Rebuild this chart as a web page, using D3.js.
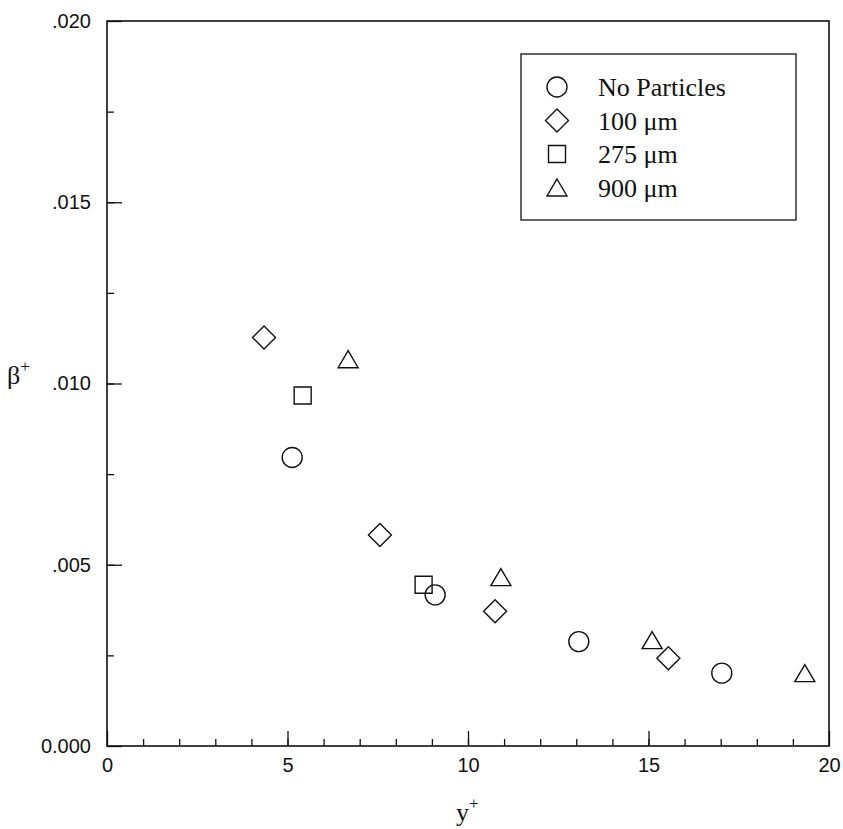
<!DOCTYPE html>
<html>
<head>
<meta charset="utf-8">
<script src="https://cdn.jsdelivr.net/npm/d3@7"></script>
<style>
  body { margin: 0; background: #fff; }
  svg { display: block; }
</style>
</head>
<body>
<div id="chart"></div>
<script>
// data: beta+ against y+ for each particle loading
var seriesNames = ["No Particles", "100 \u03bcm", "275 \u03bcm", "900 \u03bcm"];

var yPlusNone = [5.13, 9.09, 13.07, 17.03];
var betaNone  = [0.00796, 0.00417, 0.00288, 0.00201];

var yPlus100 = [4.35, 7.56, 10.75, 15.55];
var beta100  = [0.01127, 0.00582, 0.00372, 0.00242];

var yPlus275 = [5.42, 8.77];
var beta275  = [0.00967, 0.00445];

var yPlus900 = [6.68, 10.91, 15.10, 19.33];
var beta900  = [0.01067, 0.00466, 0.00292, 0.00201];

var xTicks = [0, 5, 10, 15, 20];
var yTicks = [0, 0.005, 0.010, 0.015, 0.020];

var width = 843;
var height = 829;
var margin = {top: 21, right: 14, bottom: 83, left: 107};

var svg = d3.select("#chart")
    .append("svg")
    .attr("width", width)
    .attr("height", height);

svg.append("rect").attr("width", width).attr("height", height).attr("fill", "#fff");

var g = svg.append("g").attr("transform", "translate(" + margin.left + "," + margin.top + ")");

var w = width - margin.left - margin.right;
var h = height - margin.top - margin.bottom;

var x = d3.scaleLinear().domain([0, 20]).range([0, w]);
var y = d3.scaleLinear().domain([0, 0.020]).range([h, 0]);

// marker shapes, "size" here is the half-width in px
var circleType = { draw: function(c, r) { c.moveTo(r, 0); c.arc(0, 0, r, 0, 2 * Math.PI); } };
var diamondType = { draw: function(c, r) { c.moveTo(0, -r); c.lineTo(r, 0); c.lineTo(0, r); c.lineTo(-r, 0); c.closePath(); } };
var squareType = { draw: function(c, r) { c.rect(-r, -r, 2 * r, 2 * r); } };
var triangleType = { draw: function(c, r) { var th = r * 0.85; c.moveTo(0, -th); c.lineTo(r, th); c.lineTo(-r, th); c.closePath(); } };

var series = [
  {name: seriesNames[0], xs: yPlusNone, ys: betaNone, type: circleType, r: 10},
  {name: seriesNames[1], xs: yPlus100,  ys: beta100,  type: diamondType, r: 11.5},
  {name: seriesNames[2], xs: yPlus275,  ys: beta275,  type: squareType, r: 8.5},
  {name: seriesNames[3], xs: yPlus900,  ys: beta900,  type: triangleType, r: 10}
];

// minor ticks
g.append("g")
    .attr("transform", "translate(0," + h + ")")
    .call(d3.axisBottom(x).tickValues(d3.range(1, 20)).tickSizeInner(-7).tickSizeOuter(0).tickFormat(""))
    .call(function(a) { a.select(".domain").remove(); });

g.append("g")
    .call(d3.axisLeft(y).tickValues(d3.range(1, 8).map(function(i) { return i * 0.0025; })).tickSizeInner(-7).tickSizeOuter(0).tickFormat(""))
    .call(function(a) { a.select(".domain").remove(); });

// major ticks and labels
var xAxis = g.append("g")
    .attr("transform", "translate(0," + h + ")")
    .call(d3.axisBottom(x).tickValues(xTicks).tickSizeInner(-15).tickSizeOuter(0).tickPadding(12).tickFormat(d3.format("d")));

var yAxis = g.append("g")
    .call(d3.axisLeft(y).tickValues(yTicks).tickSizeInner(-15).tickSizeOuter(0).tickPadding(16)
      .tickFormat(function(d) { return d === 0 ? "0.000" : d3.format(".3f")(d).slice(1); }));

g.selectAll(".domain").remove();
g.selectAll(".tick line").attr("stroke", "#111").attr("stroke-width", 1.3);
g.selectAll(".tick text")
    .style("font-family", "'Liberation Sans', Arial, sans-serif")
    .style("font-size", "20px")
    .attr("fill", "#111");

// frame
g.append("rect")
    .attr("width", w)
    .attr("height", h)
    .attr("fill", "none")
    .attr("stroke", "#111")
    .attr("stroke-width", 1.6);

// points
series.forEach(function(s) {
  var sym = d3.symbol().type(s.type).size(s.r);
  g.append("g").selectAll("path")
    .data(s.xs.map(function(v, i) { return [v, s.ys[i]]; }))
    .enter().append("path")
      .attr("transform", function(d) { return "translate(" + x(d[0]) + "," + y(d[1]) + ")"; })
      .attr("d", sym)
      .attr("fill", "none")
      .attr("stroke", "#111")
      .attr("stroke-width", 1.4);
});

// legend
var legend = svg.append("g").attr("transform", "translate(521,54)");
legend.append("rect")
    .attr("width", 275)
    .attr("height", 166)
    .attr("fill", "#fff")
    .attr("stroke", "#111")
    .attr("stroke-width", 1.3);

var item = legend.selectAll(".item")
    .data(series)
    .enter().append("g")
      .attr("class", "item")
      .attr("transform", function(d, i) { return "translate(0," + (33 + i * 33.5) + ")"; });

item.append("path")
    .attr("transform", "translate(36,0)")
    .attr("d", function(d) { return d3.symbol().type(d.type).size(d.r)(); })
    .attr("fill", "none")
    .attr("stroke", "#111")
    .attr("stroke-width", 1.4);

item.append("text")
    .attr("x", 77)
    .attr("dy", "0.35em")
    .style("font-family", "'Liberation Serif', 'Times New Roman', serif")
    .style("font-size", "26px")
    .attr("fill", "#111")
    .text(function(d) { return d.name; });

// axis titles
var yTitle = svg.append("text")
    .attr("x", 7)
    .attr("y", 384)
    .style("font-family", "'Liberation Serif', 'Times New Roman', serif")
    .style("font-size", "26px")
    .attr("fill", "#111");
yTitle.append("tspan").text("\u03b2");
yTitle.append("tspan").attr("dy", -12).style("font-size", "17px").text("+");

var xTitle = svg.append("text")
    .attr("x", 456)
    .attr("y", 821)
    .style("font-family", "'Liberation Serif', 'Times New Roman', serif")
    .style("font-size", "26px")
    .attr("fill", "#111");
xTitle.append("tspan").text("y");
xTitle.append("tspan").attr("dy", -12).style("font-size", "17px").text("+");
</script>
</body>
</html>
